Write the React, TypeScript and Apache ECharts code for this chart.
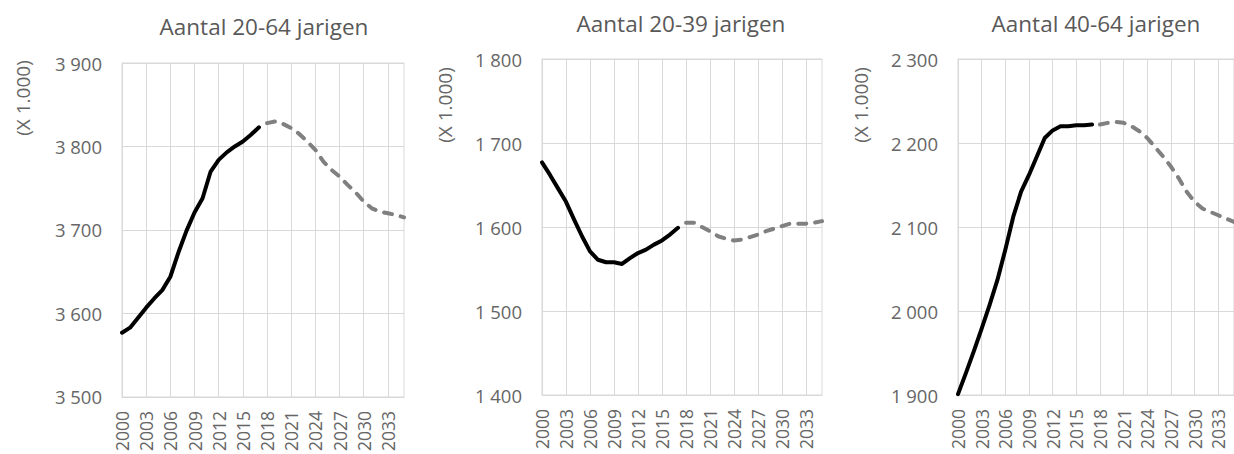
import React, { useEffect, useRef } from "react";
import * as echarts from "echarts";

const years: string[] = [];
for (let y = 2000; y <= 2035; y++) years.push(String(y));

// Aantal 20-64 jarigen (x 1.000)
const actual2064 = [3577, 3583, 3595, 3607, 3618, 3628, 3644, 3673, 3699, 3721, 3738, 3770, 3784, 3793, 3800, 3806, 3814, 3823];
const progn2064 = [3828, 3830, 3827, 3822, 3815, 3806, 3796, 3782, 3772, 3764, 3754, 3745, 3734, 3726, 3722, 3720, 3718, 3715];

// Aantal 20-39 jarigen (x 1.000)
const actual2039 = [1677, 1662, 1646, 1630, 1609, 1589, 1571, 1561, 1558, 1558, 1556, 1563, 1569, 1573, 1579, 1584, 1591, 1599];
const progn2039 = [1605, 1605, 1600, 1595, 1589, 1586, 1584, 1585, 1588, 1591, 1595, 1598, 1601, 1604, 1604, 1604, 1605, 1607];

// Aantal 40-64 jarigen (x 1.000)
const actual4064 = [1901, 1926, 1952, 1979, 2007, 2037, 2073, 2112, 2142, 2162, 2184, 2206, 2215, 2220, 2220, 2221, 2221, 2222];
const progn4064 = [2222, 2224, 2225, 2224, 2220, 2214, 2206, 2195, 2184, 2172, 2158, 2142, 2130, 2122, 2118, 2114, 2110, 2106];

const titles = ["Aantal 20-64 jarigen", "Aantal 20-39 jarigen", "Aantal 40-64 jarigen"];
const yMins = [3500, 1400, 1900];
const yMaxs = [3900, 1800, 2300];
const unitLabel = "(X 1.000)";

const FONT = "'Open Sans', 'Noto Sans', sans-serif";
const TITLE_COLOR = "#595959";
const TEXT = "#666666";
const GRID = "#d9d9d9";

function fmt(v: number): string {
  return String(v).replace(/\B(?=(\d{3})+(?!\d))/g, " ");
}

export default function App() {
  const ref = useRef<HTMLDivElement>(null);
  useEffect(() => {
    document.body.style.margin = "0";
    document.body.style.overflow = "hidden";
    const chart = echarts.init(ref.current!, undefined, { renderer: "svg" });

    const grids = [
      { left: 122, top: 63, width: 282, height: 335 },
      { left: 542, top: 59, width: 280, height: 336 },
      { left: 958, top: 59, width: 282, height: 336 },
    ];
    const titlePos = [
      { x: 264, y: 26 },
      { x: 681, y: 23 },
      { x: 1096, y: 23 },
    ];
    const unitPos = [
      { x: 23, y: 98 },
      { x: 445, y: 105 },
      { x: 861, y: 105 },
    ];
    const actuals = [actual2064, actual2039, actual4064];
    const progns = [progn2064, progn2039, progn4064];

    const pad = (arr: number[], before: number) => {
      const out: (number | null)[] = [];
      for (let i = 0; i < before; i++) out.push(null);
      for (const v of arr) out.push(v);
      while (out.length < years.length) out.push(null);
      return out;
    };

    const xAxis = grids.map((_, i) => ({
      type: "category",
      gridIndex: i,
      data: years,
      boundaryGap: false,
      axisLine: { show: true, lineStyle: { color: GRID, width: 1 } },
      axisTick: { show: false },
      axisLabel: {
        interval: 2,
        rotate: 90,
        margin: 14,
        color: TEXT,
        fontFamily: FONT,
        fontSize: 17.5,
      },
      splitLine: { show: true, interval: 2, lineStyle: { color: GRID, width: 1 } },
    }));

    const yAxis = grids.map((_, i) => ({
      type: "value",
      gridIndex: i,
      min: yMins[i],
      max: yMaxs[i],
      interval: 100,
      axisLine: { show: true, lineStyle: { color: GRID, width: 1 } },
      axisTick: { show: false },
      axisLabel: {
        margin: 20,
        color: TEXT,
        fontFamily: FONT,
        fontSize: 18.5,
        formatter: (v: number) => fmt(v),
      },
      splitLine: { show: true, lineStyle: { color: GRID, width: 1 } },
    }));

    const series: any[] = [];
    grids.forEach((_, i) => {
      series.push({
        type: "line",
        xAxisIndex: i,
        yAxisIndex: i,
        data: pad(actuals[i], 0),
        showSymbol: false,
        symbol: "none",
        lineStyle: { color: "#000000", width: 4, cap: "round", join: "round" },
        connectNulls: false,
      });
      series.push({
        type: "line",
        xAxisIndex: i,
        yAxisIndex: i,
        data: pad(progns[i], actuals[i].length),
        showSymbol: false,
        symbol: "none",
        lineStyle: { color: "#808080", width: 4, type: [8, 9], cap: "round", join: "round" },
        connectNulls: false,
      });
    });

    const graphic: any[] = [];
    titles.forEach((t, i) => {
      graphic.push({
        type: "text",
        x: titlePos[i].x,
        y: titlePos[i].y,
        style: {
          text: t,
          fill: TITLE_COLOR,
          font: `22.5px ${FONT}`,
          align: "center",
          verticalAlign: "middle",
        },
      });
      graphic.push({
        type: "text",
        x: unitPos[i].x,
        y: unitPos[i].y,
        rotation: Math.PI / 2,
        style: {
          text: unitLabel,
          fill: TEXT,
          font: `19px ${FONT}`,
          align: "center",
          verticalAlign: "middle",
        },
      });
    });

    chart.setOption({
      animation: false,
      backgroundColor: "#ffffff",
      grid: grids.map((g) => ({ ...g, show: true, borderColor: GRID, borderWidth: 1, backgroundColor: "transparent" })),
      xAxis,
      yAxis,
      series,
      graphic,
    });
    return () => chart.dispose();
  }, []);
  return <div ref={ref} style={{ width: 1234, height: 454 }} />;
}
